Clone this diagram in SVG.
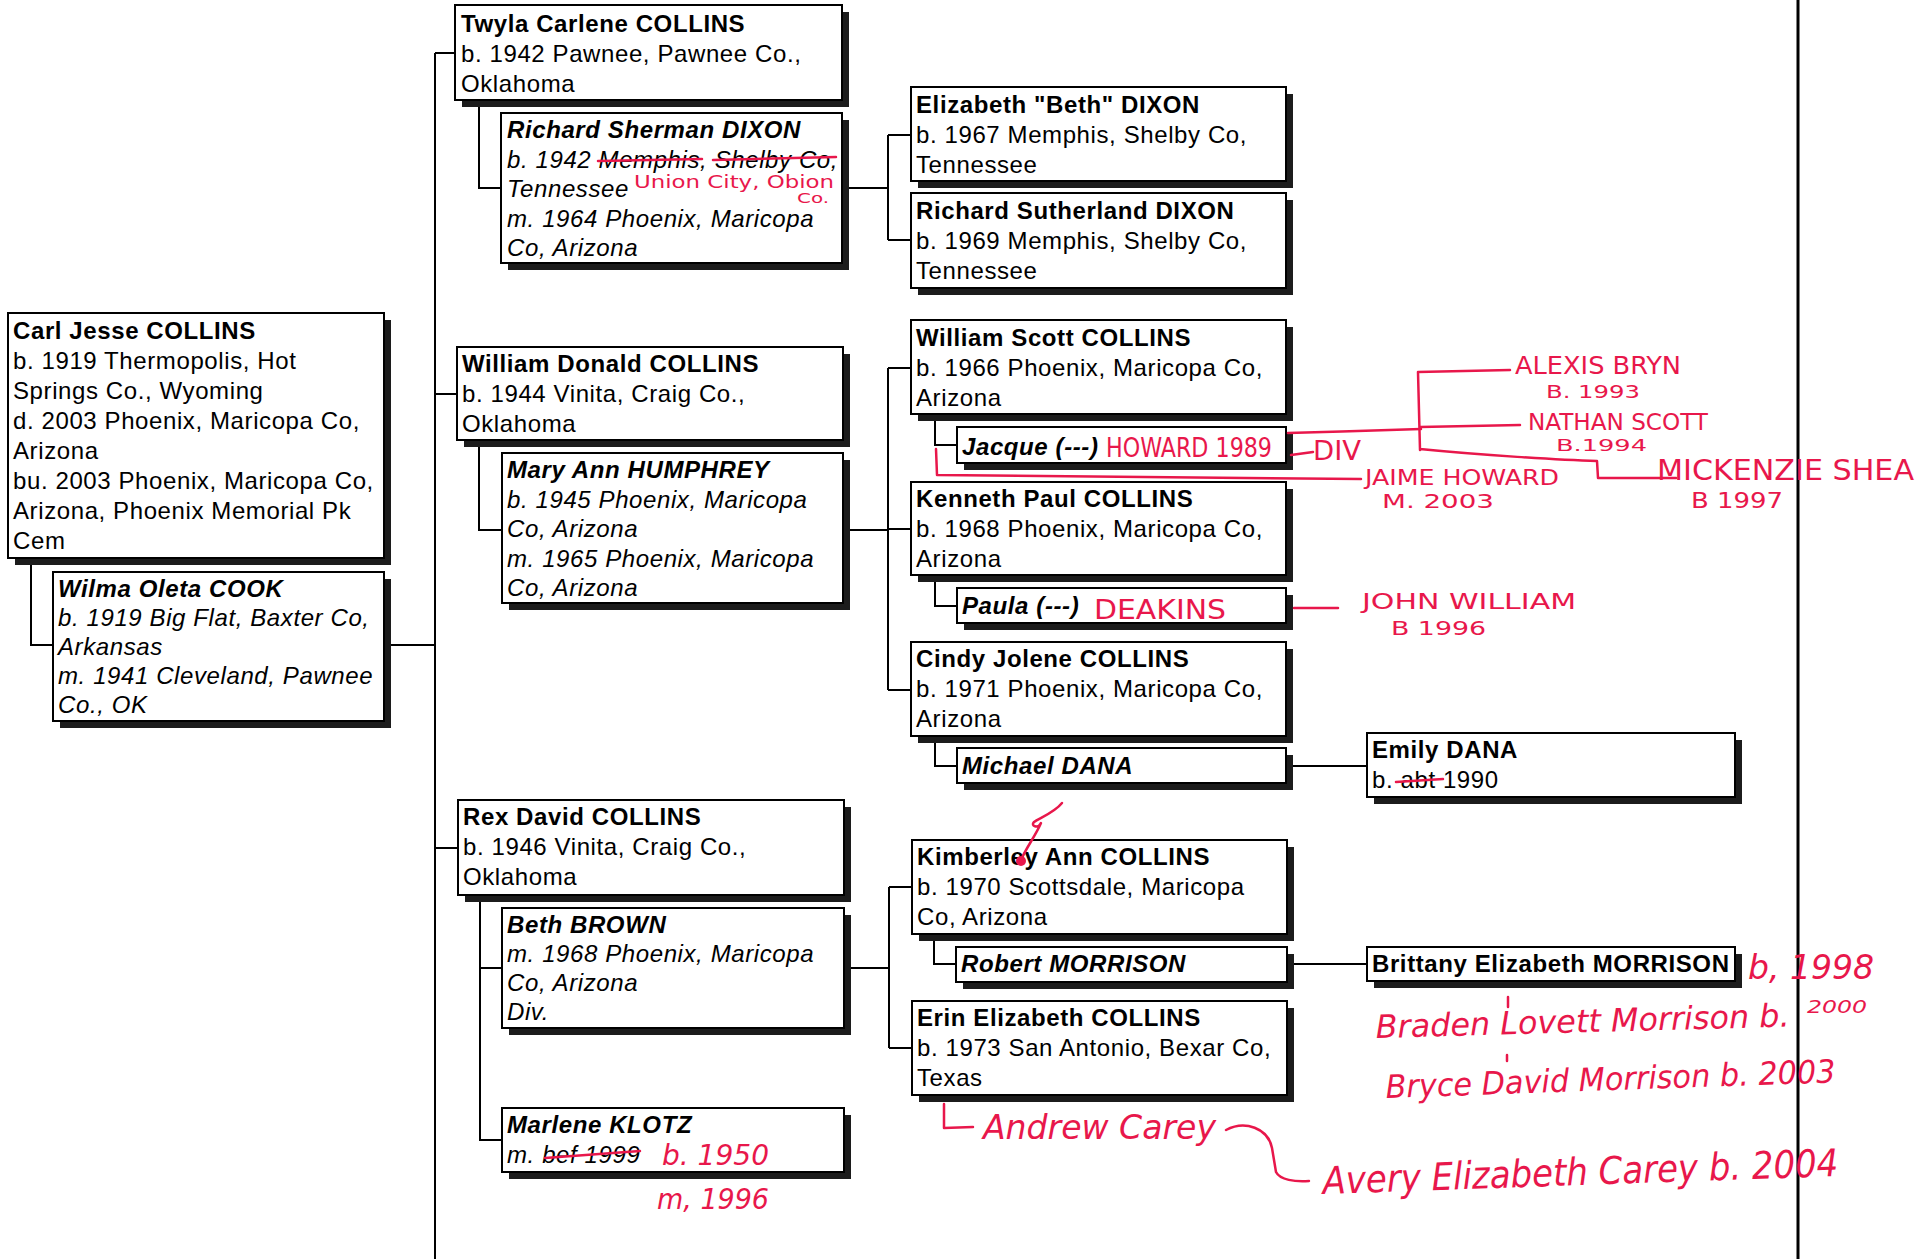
<svg xmlns="http://www.w3.org/2000/svg" width="1924" height="1259" viewBox="0 0 1924 1259">
<style>
.bg{fill:#fff}
.box{fill:#fff;stroke:#000;stroke-width:2}
.sh{fill:#1c1c1c}
.t{font-family:"Liberation Sans",Arial,sans-serif;font-size:24px;letter-spacing:0.6px;fill:#000}
.b{font-weight:bold}
.i{font-style:italic}
.con{fill:none;stroke:#000;stroke-width:2}
.border{fill:none;stroke:#000;stroke-width:3}
.red{fill:none;stroke:#e8174b;stroke-width:2.5;stroke-linecap:round;stroke-linejoin:round}
.hw{font-family:"DejaVu Sans Condensed","Liberation Sans Narrow","DejaVu Sans",sans-serif;fill:#e8174b}
.hwc{font-family:"DejaVu Sans Condensed","Liberation Sans Narrow","DejaVu Sans",sans-serif;fill:#e8174b;font-style:italic}
</style>
<rect class="bg" x="0" y="0" width="1924" height="1259"/>

<g id="connectors">
<path class="con" d="M435,53 V1259"/>
<path class="con" d="M435,53 H455"/>
<path class="con" d="M435,394 H457"/>
<path class="con" d="M435,848 H458"/>
<path class="con" d="M384,645 H435"/>
<path class="con" d="M31,558 V645 H53"/>
<path class="con" d="M479,100 V188 H501"/>
<path class="con" d="M842,188 H888 M888,135 V240 M888,135 H911 M888,240 H911"/>
<path class="con" d="M479,440 V530 H502"/>
<path class="con" d="M843,530 H888 M888,368 V690 M888,368 H911 M888,529 H911 M888,690 H911"/>
<path class="con" d="M935,414 V445 H957"/>
<path class="con" d="M935,575 V606 H957"/>
<path class="con" d="M935,736 V766 H957"/>
<path class="con" d="M1286,766 H1367"/>
<path class="con" d="M480,895 V1140 H502 M480,968 H502"/>
<path class="con" d="M844,968 H889 M889,887 V1048 M889,887 H912 M889,1048 H912"/>
<path class="con" d="M934,934 V964 H956"/>
<path class="con" d="M1287,964 H1367"/>
</g>
<path id="page-edge" class="border" d="M1798,0 V1259"/>

<g id="n-carl">
<rect class="sh" x="15" y="320" width="376" height="245"/>
<rect class="box" x="8" y="313" width="376" height="245"/>
<text class="t" x="13" y="339"><tspan class="b" x="13">Carl Jesse COLLINS</tspan><tspan x="13" dy="30">b. 1919 Thermopolis, Hot</tspan><tspan x="13" dy="30">Springs Co., Wyoming</tspan><tspan x="13" dy="30">d. 2003 Phoenix, Maricopa Co,</tspan><tspan x="13" dy="30">Arizona</tspan><tspan x="13" dy="30">bu. 2003 Phoenix, Maricopa Co,</tspan><tspan x="13" dy="30">Arizona, Phoenix Memorial Pk</tspan><tspan x="13" dy="30">Cem</tspan></text>
</g>

<g id="n-wilma">
<rect class="sh" x="60" y="579" width="331" height="149"/>
<rect class="box" x="53" y="572" width="331" height="149"/>
<text class="t i" x="58" y="597"><tspan class="b" x="58">Wilma Oleta COOK</tspan><tspan x="58" dy="29">b. 1919 Big Flat, Baxter Co,</tspan><tspan x="58" dy="29">Arkansas</tspan><tspan x="58" dy="29">m. 1941 Cleveland, Pawnee</tspan><tspan x="58" dy="29">Co., OK</tspan></text>
</g>

<g id="n-twyla">
<rect class="sh" x="462" y="12" width="387" height="95"/>
<rect class="box" x="455" y="5" width="387" height="95"/>
<text class="t" x="461" y="32"><tspan class="b" x="461">Twyla Carlene COLLINS</tspan><tspan x="461" dy="30">b. 1942 Pawnee, Pawnee Co.,</tspan><tspan x="461" dy="30">Oklahoma</tspan></text>
</g>

<g id="n-rsdixon">
<rect class="sh" x="508" y="120" width="341" height="150"/>
<rect class="box" x="501" y="113" width="341" height="150"/>
<text class="t i" x="507" y="138"><tspan class="b" x="507">Richard Sherman DIXON</tspan><tspan x="507" dy="29.5">b. 1942 Memphis, Shelby Co,</tspan><tspan x="507" dy="29.5">Tennessee</tspan><tspan x="507" dy="29.5">m. 1964 Phoenix, Maricopa</tspan><tspan x="507" dy="29.5">Co, Arizona</tspan></text>
</g>

<g id="n-wdcollins">
<rect class="sh" x="464" y="354" width="386" height="93"/>
<rect class="box" x="457" y="347" width="386" height="93"/>
<text class="t" x="462" y="372"><tspan class="b" x="462">William Donald COLLINS</tspan><tspan x="462" dy="30">b. 1944 Vinita, Craig Co.,</tspan><tspan x="462" dy="30">Oklahoma</tspan></text>
</g>

<g id="n-maryann">
<rect class="sh" x="509" y="460" width="341" height="150"/>
<rect class="box" x="502" y="453" width="341" height="150"/>
<text class="t i" x="507" y="478"><tspan class="b" x="507">Mary Ann HUMPHREY</tspan><tspan x="507" dy="29.6">b. 1945 Phoenix, Maricopa</tspan><tspan x="507" dy="29.6">Co, Arizona</tspan><tspan x="507" dy="29.6">m. 1965 Phoenix, Maricopa</tspan><tspan x="507" dy="29.6">Co, Arizona</tspan></text>
</g>

<g id="n-rex">
<rect class="sh" x="465" y="807" width="386" height="95"/>
<rect class="box" x="458" y="800" width="386" height="95"/>
<text class="t" x="463" y="825"><tspan class="b" x="463">Rex David COLLINS</tspan><tspan x="463" dy="30">b. 1946 Vinita, Craig Co.,</tspan><tspan x="463" dy="30">Oklahoma</tspan></text>
</g>

<g id="n-beth">
<rect class="sh" x="509" y="915" width="342" height="120"/>
<rect class="box" x="502" y="908" width="342" height="120"/>
<text class="t i" x="507" y="933"><tspan class="b" x="507">Beth BROWN</tspan><tspan x="507" dy="29">m. 1968 Phoenix, Maricopa</tspan><tspan x="507" dy="29">Co, Arizona</tspan><tspan x="507" dy="29">Div.</tspan></text>
</g>

<g id="n-marlene">
<rect class="sh" x="509" y="1115" width="342" height="64"/>
<rect class="box" x="502" y="1108" width="342" height="64"/>
<text class="t i" x="507" y="1133"><tspan class="b" x="507">Marlene KLOTZ</tspan><tspan x="507" dy="30">m. bef 1999</tspan></text>
</g>

<g id="n-elizabeth">
<rect class="sh" x="918" y="94" width="375" height="94"/>
<rect class="box" x="911" y="87" width="375" height="94"/>
<text class="t" x="916" y="113"><tspan class="b" x="916">Elizabeth "Beth" DIXON</tspan><tspan x="916" dy="30">b. 1967 Memphis, Shelby Co,</tspan><tspan x="916" dy="30">Tennessee</tspan></text>
</g>

<g id="n-rsuthdixon">
<rect class="sh" x="918" y="200" width="375" height="95"/>
<rect class="box" x="911" y="193" width="375" height="95"/>
<text class="t" x="916" y="219"><tspan class="b" x="916">Richard Sutherland DIXON</tspan><tspan x="916" dy="30">b. 1969 Memphis, Shelby Co,</tspan><tspan x="916" dy="30">Tennessee</tspan></text>
</g>

<g id="n-wscott">
<rect class="sh" x="918" y="327" width="375" height="94"/>
<rect class="box" x="911" y="320" width="375" height="94"/>
<text class="t" x="916" y="346"><tspan class="b" x="916">William Scott COLLINS</tspan><tspan x="916" dy="30">b. 1966 Phoenix, Maricopa Co,</tspan><tspan x="916" dy="30">Arizona</tspan></text>
</g>

<g id="n-jacque">
<rect class="sh" x="964" y="434" width="329" height="36"/>
<rect class="box" x="957" y="427" width="329" height="36"/>
<text class="t b i" x="962" y="455">Jacque (---)</text>
</g>

<g id="n-kenneth">
<rect class="sh" x="918" y="489" width="375" height="93"/>
<rect class="box" x="911" y="482" width="375" height="93"/>
<text class="t" x="916" y="507"><tspan class="b" x="916">Kenneth Paul COLLINS</tspan><tspan x="916" dy="30">b. 1968 Phoenix, Maricopa Co,</tspan><tspan x="916" dy="30">Arizona</tspan></text>
</g>

<g id="n-paula">
<rect class="sh" x="964" y="595" width="329" height="35"/>
<rect class="box" x="957" y="588" width="329" height="35"/>
<text class="t b i" x="962" y="614">Paula (---)</text>
</g>

<g id="n-cindy">
<rect class="sh" x="918" y="649" width="375" height="94"/>
<rect class="box" x="911" y="642" width="375" height="94"/>
<text class="t" x="916" y="667"><tspan class="b" x="916">Cindy Jolene COLLINS</tspan><tspan x="916" dy="30">b. 1971 Phoenix, Maricopa Co,</tspan><tspan x="916" dy="30">Arizona</tspan></text>
</g>

<g id="n-michael">
<rect class="sh" x="964" y="755" width="329" height="35"/>
<rect class="box" x="957" y="748" width="329" height="35"/>
<text class="t b i" x="962" y="774">Michael DANA</text>
</g>

<g id="n-emily">
<rect class="sh" x="1374" y="740" width="368" height="64"/>
<rect class="box" x="1367" y="733" width="368" height="64"/>
<text class="t" x="1372" y="758"><tspan class="b" x="1372">Emily DANA</tspan><tspan x="1372" dy="30">b. abt 1990</tspan></text>
</g>

<g id="n-kimberley">
<rect class="sh" x="919" y="847" width="375" height="94"/>
<rect class="box" x="912" y="840" width="375" height="94"/>
<text class="t" x="917" y="865"><tspan class="b" x="917">Kimberley Ann COLLINS</tspan><tspan x="917" dy="30">b. 1970 Scottsdale, Maricopa</tspan><tspan x="917" dy="30">Co, Arizona</tspan></text>
</g>

<g id="n-robert">
<rect class="sh" x="963" y="954" width="331" height="35"/>
<rect class="box" x="956" y="947" width="331" height="35"/>
<text class="t b i" x="961" y="972">Robert MORRISON</text>
</g>

<g id="n-erin">
<rect class="sh" x="919" y="1008" width="375" height="94"/>
<rect class="box" x="912" y="1001" width="375" height="94"/>
<text class="t" x="917" y="1026"><tspan class="b" x="917">Erin Elizabeth COLLINS</tspan><tspan x="917" dy="30">b. 1973 San Antonio, Bexar Co,</tspan><tspan x="917" dy="30">Texas</tspan></text>
</g>

<g id="n-brittany">
<rect class="sh" x="1374" y="954" width="368" height="34"/>
<rect class="box" x="1367" y="947" width="368" height="34"/>
<text class="t b" x="1372" y="972">Brittany Elizabeth MORRISON</text>
</g>

<g id="annotations">
<path class="red" d="M598,161 L702,159 M713,160 L836,157"/>
<text class="hw" x="634" y="188" font-size="18" textLength="200" lengthAdjust="spacingAndGlyphs">Union City, Obion</text>
<text class="hw" x="797" y="203" font-size="14" textLength="32" lengthAdjust="spacingAndGlyphs">Co.</text>

<text class="hw" x="1106" y="457" font-size="26" textLength="166" lengthAdjust="spacingAndGlyphs">HOWARD 1989</text>
<path class="red" d="M1288,433 C1330,432 1390,430 1421,429"/>
<path class="red" d="M1418,372 L1420,450 M1418,372 L1510,370 M1420,427 L1520,425 M1420,449 C1480,455 1560,460 1597,461 L1598,478 L1676,478"/>
<text class="hw" x="1515" y="374" font-size="24" textLength="166" lengthAdjust="spacingAndGlyphs">ALEXIS BRYN</text>
<text class="hw" x="1546" y="398" font-size="18" textLength="94" lengthAdjust="spacingAndGlyphs">B. 1993</text>
<text class="hw" x="1528" y="430" font-size="23" textLength="180" lengthAdjust="spacingAndGlyphs">NATHAN SCOTT</text>
<text class="hw" x="1556" y="451" font-size="16" textLength="91" lengthAdjust="spacingAndGlyphs">B.1994</text>
<text class="hw" x="1657" y="480" font-size="28" textLength="257" lengthAdjust="spacingAndGlyphs">MICKENZIE SHEA</text>
<text class="hw" x="1691" y="508" font-size="22" textLength="92" lengthAdjust="spacingAndGlyphs">B 1997</text>
<path class="red" d="M1291,455 L1313,452"/>
<text class="hw" x="1313" y="460" font-size="26" textLength="48" lengthAdjust="spacingAndGlyphs">DIV</text>
<path class="red" d="M936,449 L937,475 C1100,476 1250,478 1361,479"/>
<text class="hw" x="1365" y="485" font-size="22" textLength="194" lengthAdjust="spacingAndGlyphs">JAIME HOWARD</text>
<text class="hw" x="1382" y="508" font-size="19" textLength="112" lengthAdjust="spacingAndGlyphs">M. 2003</text>

<text class="hw" x="1094" y="619" font-size="26" textLength="132" lengthAdjust="spacingAndGlyphs">DEAKINS</text>
<path class="red" d="M1294,608 L1338,608"/>
<text class="hw" x="1362" y="609" font-size="22" textLength="214" lengthAdjust="spacingAndGlyphs">JOHN WILLIAM</text>
<text class="hw" x="1391" y="635" font-size="19" textLength="95" lengthAdjust="spacingAndGlyphs">B 1996</text>

<path class="red" d="M1396,782 L1443,779"/>

<path class="red" d="M1062,803 C1055,812 1040,818 1034,822 C1030,826 1038,829 1041,823 C1036,835 1026,848 1021,860"/>
<circle cx="1021" cy="861" r="5" fill="#e8174b"/>

<text class="hwc" x="1748" y="979" font-size="34" textLength="126" lengthAdjust="spacingAndGlyphs">b, 1998</text>
<text class="hwc" x="1376" y="1038" font-size="32" textLength="414" lengthAdjust="spacingAndGlyphs" transform="rotate(-1.6 1376 1038)">Braden Lovett Morrison b.</text>
<text class="hwc" x="1807" y="1013" font-size="18" textLength="60" lengthAdjust="spacingAndGlyphs">2000</text>
<path class="red" d="M1508,997 L1508,1007 M1507,1055 L1507,1061"/>
<text class="hwc" x="1386" y="1098" font-size="32" textLength="450" lengthAdjust="spacingAndGlyphs" transform="rotate(-2 1386 1098)">Bryce David Morrison b. 2003</text>

<path class="red" d="M944,1104 L944,1128 L973,1127"/>
<text class="hwc" x="983" y="1139" font-size="34" textLength="233" lengthAdjust="spacingAndGlyphs">Andrew Carey</text>
<path class="red" d="M1226,1130 C1245,1120 1268,1128 1272,1148 L1276,1172 C1280,1180 1295,1182 1309,1181"/>
<text class="hwc" x="1323" y="1194" font-size="38" textLength="516" lengthAdjust="spacingAndGlyphs" transform="rotate(-2 1323 1194)">Avery Elizabeth Carey b. 2004</text>

<path class="red" d="M545,1158 L640,1151"/>
<text class="hwc" x="662" y="1165" font-size="28" textLength="107" lengthAdjust="spacingAndGlyphs">b. 1950</text>
<text class="hwc" x="657" y="1209" font-size="28" textLength="112" lengthAdjust="spacingAndGlyphs">m, 1996</text>
</g>
</svg>
